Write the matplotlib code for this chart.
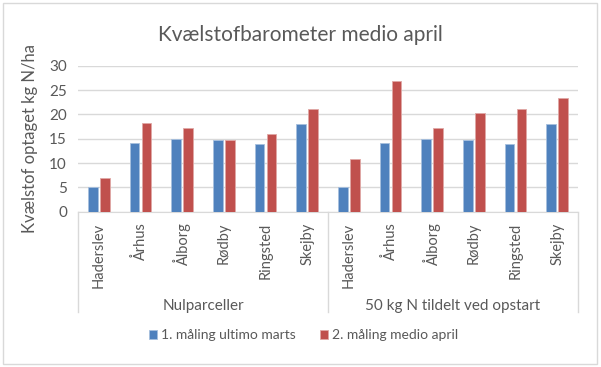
import matplotlib.pyplot as plt
import matplotlib.transforms as mtransforms
from matplotlib.patches import Rectangle
import numpy as np

plt.rcParams['font.family'] = ['Lato', 'DejaVu Sans']

cities = ['Haderslev', 'Århus', 'Ålborg', 'Rødby', 'Ringsted', 'Skejby']
groups = ['Nulparceller', '50 kg N tildelt ved opstart']
maaling1 = [5.0, 14.1, 15.0, 14.8, 14.0, 18.0,
            5.0, 14.1, 15.0, 14.8, 14.0, 18.0]
maaling2 = [7.0, 18.2, 17.2, 14.8, 15.9, 21.2,
            10.8, 26.8, 17.3, 20.3, 21.2, 23.4]

txt = '#595959'
fig = plt.figure(figsize=(6.01, 3.67), dpi=100)
fig.patches.append(Rectangle((0.005, 0.008), 0.988, 0.983, transform=fig.transFigure,
                             fill=False, edgecolor='#d9d9d9', lw=1))
ax = fig.add_axes([78/601, 155.3/367, 500/601, 146/367])

x = np.arange(len(maaling1))
w = 0.23
ax.bar(x - 0.145, maaling1, w, color='#4F81BD', edgecolor='#a7c0de', lw=0.6,
       label='1. måling ultimo marts', zorder=3)
ax.bar(x + 0.145, maaling2, w, color='#C0504D', edgecolor='#e0a8a6', lw=0.6,
       label='2. måling medio april', zorder=3)

ax.set_xlim(-0.5, len(x) - 0.5)
ax.set_ylim(0, 30)
ax.set_yticks(range(0, 31, 5))
ax.yaxis.grid(True, color='#d9d9d9', lw=1)
for s in ['top', 'right', 'left']:
    ax.spines[s].set_visible(False)
ax.spines['bottom'].set_color('#d9d9d9')
ax.tick_params(axis='y', length=0, labelsize=11, colors=txt, pad=8)
ax.set_xticks(x)
ax.set_xticklabels(cities * 2, rotation=90, fontsize=10.5, color=txt, va='top')
ax.tick_params(axis='x', length=0, pad=8)
ax.set_ylabel('Kvælstof optaget kg N/ha', fontsize=12, color=txt, labelpad=8)

trans = mtransforms.blended_transform_factory(ax.transData, ax.transAxes)
for xb in [-0.5, 5.5, 11.5]:
    ax.plot([xb, xb], [0, -0.69], transform=trans, color='#d9d9d9', lw=1, clip_on=False)
for i, g in enumerate(groups):
    ax.text(2.5 + 6 * i, -0.645, g, transform=trans, ha='center', va='center',
            fontsize=11, color=txt)

fig.text(0.5, 0.905, 'Kvælstofbarometer medio april', ha='center', va='center',
         fontsize=15, color=txt)
fig.legend(loc='center', bbox_to_anchor=(0.505, 0.087), ncol=2, frameon=False,
           fontsize=10, labelcolor=txt, handlelength=0.6, handleheight=0.6,
           handletextpad=0.3, columnspacing=1.7)

plt.savefig('out.png', dpi=100)
